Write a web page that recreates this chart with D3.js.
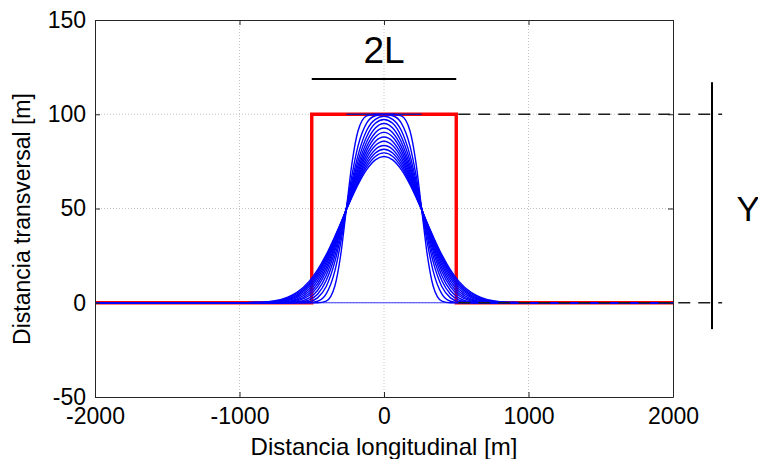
<!DOCTYPE html>
<html>
<head>
<meta charset="utf-8">
<script src="https://cdn.jsdelivr.net/npm/d3@7"></script>
<style>
body { margin: 0; background: #fff; }
text { font-family: "Liberation Sans", Arial, sans-serif; fill: #000; }
.axis path, .axis line { stroke: #262626; }
</style>
</head>
<body>
<svg id="chart" width="758" height="459"></svg>
<script>
// sample positions along the coast [m]
const xPos = [-2000, -1000, -900, -800, -700, -600, -520, -460, -400, -340, -300, -260, -220, -180, -120, -60, 0,
              60, 120, 180, 220, 260, 300, 340, 400, 460, 520, 600, 700, 800, 900, 1000, 2000];

// shoreline position at successive times [m]
const t01 = [0, 0, 0, 0, 0, 0, 0, 0, 0.9, 8.9, 25.1, 50, 74.9, 91.1, 99.1, 100, 100, 100, 99.1, 91.1, 74.9, 50, 25.1, 8.9, 0.9, 0, 0, 0, 0, 0, 0, 0, 0];
const t02 = [0, 0, 0, 0, 0, 0, 0.1, 0.8, 4.7, 16.9, 31.6, 50, 68.4, 83.1, 95.3, 99.2, 99.8, 99.2, 95.3, 83.1, 68.4, 50, 31.6, 16.9, 4.7, 0.8, 0.1, 0, 0, 0, 0, 0, 0];
const t03 = [0, 0, 0, 0, 0, 0.1, 0.6, 2.6, 8.6, 21.8, 34.8, 50, 65.2, 78.2, 91.4, 97.3, 98.9, 97.3, 91.4, 78.2, 65.2, 50, 34.8, 21.8, 8.6, 2.6, 0.6, 0.1, 0, 0, 0, 0, 0];
const t04 = [0, 0, 0, 0, 0, 0.2, 1.4, 4.5, 11.8, 24.9, 36.7, 50, 63.3, 75.1, 88.1, 95.2, 97.2, 95.2, 88.1, 75.1, 63.3, 50, 36.7, 24.9, 11.8, 4.5, 1.4, 0.2, 0, 0, 0, 0, 0];
const t05 = [0, 0, 0, 0, 0, 0.5, 2.5, 6.5, 14.5, 27.3, 38.1, 50, 61.9, 72.7, 85.3, 92.7, 95.1, 92.7, 85.3, 72.7, 61.9, 50, 38.1, 27.3, 14.5, 6.5, 2.5, 0.5, 0, 0, 0, 0, 0];
const t06 = [0, 0, 0, 0, 0.1, 1.0, 3.7, 8.4, 16.7, 29.1, 39.1, 50, 60.8, 70.8, 82.8, 90.2, 92.7, 90.2, 82.8, 70.8, 60.8, 50, 39.1, 29.1, 16.7, 8.4, 3.7, 1.0, 0.1, 0, 0, 0, 0];
const t07 = [0, 0, 0, 0, 0.2, 1.5, 4.8, 10.0, 18.5, 30.4, 39.9, 50, 60.0, 69.3, 80.7, 87.9, 90.4, 87.9, 80.7, 69.3, 60.0, 50, 39.9, 30.4, 18.5, 10.0, 4.8, 1.5, 0.2, 0, 0, 0, 0];
const t08 = [0, 0, 0, 0.1, 0.4, 2.1, 6.0, 11.6, 20.2, 31.6, 40.5, 49.9, 59.2, 67.9, 78.7, 85.6, 87.9, 85.6, 78.7, 67.9, 59.2, 49.9, 40.5, 31.6, 20.2, 11.6, 6.0, 2.1, 0.4, 0.1, 0, 0, 0];
const t09 = [0, 0, 0, 0.1, 0.7, 2.8, 7.2, 13.0, 21.5, 32.6, 41.0, 49.8, 58.6, 66.7, 76.9, 83.4, 85.7, 83.4, 76.9, 66.7, 58.6, 49.8, 41.0, 32.6, 21.5, 13.0, 7.2, 2.8, 0.7, 0.1, 0, 0, 0];
const t10 = [0, 0, 0, 0.2, 1.0, 3.5, 8.3, 14.3, 22.7, 33.4, 41.4, 49.7, 57.9, 65.6, 75.1, 81.3, 83.4, 81.3, 75.1, 65.6, 57.9, 49.7, 41.4, 33.4, 22.7, 14.3, 8.3, 3.5, 1.0, 0.2, 0, 0, 0];
const t11 = [0, 0, 0.1, 0.3, 1.3, 4.2, 9.3, 15.5, 23.8, 34.1, 41.7, 49.6, 57.3, 64.5, 73.5, 79.4, 81.4, 79.4, 73.5, 64.5, 57.3, 49.6, 41.7, 34.1, 23.8, 15.5, 9.3, 4.2, 1.3, 0.3, 0.1, 0, 0];
const t12 = [0, 0, 0.1, 0.4, 1.6, 4.9, 10.2, 16.4, 24.7, 34.7, 41.9, 49.4, 56.8, 63.6, 72.1, 77.6, 79.5, 77.6, 72.1, 63.6, 56.8, 49.4, 41.9, 34.7, 24.7, 16.4, 10.2, 4.9, 1.6, 0.4, 0.1, 0, 0];
const t13 = [0, 0, 0.1, 0.6, 2.0, 5.6, 11.2, 17.4, 25.5, 35.2, 42.1, 49.3, 56.2, 62.6, 70.6, 75.8, 77.6, 75.8, 70.6, 62.6, 56.2, 49.3, 42.1, 35.2, 25.5, 17.4, 11.2, 5.6, 2.0, 0.6, 0.1, 0, 0];
const shorelines = [t01, t02, t03, t04, t05, t06, t07, t08, t09, t10, t11, t12, t13];

// initial nourishment (red)
const initX = [-2000, -500, -500, 500, 500, 2000];
const initY = [0, 0, 100, 100, 0, 0];

// thin blue reference lines
const baseX = [-2000, 2000];
const baseY = [0, 0];
const topX = [-260, 260];
const topY = [100, 100];

// annotations
const refLevels = [0, 100];
const refStartX = 500;
const refEndX = 2340;
const barX = 2270;
const barY = [-14, 117];
const spanX = [-500, 500];
const spanY = 118.7;
const spanLabelY = 127;
const yLabelPos = [2440, 50];

const xTicks = [-2000, -1000, 0, 1000, 2000];
const yTicks = [-50, 0, 50, 100, 150];

let margin = {top: 20, right: 85, bottom: 62, left: 95};
let width = 758 - margin.left - margin.right;
let height = 459 - margin.top - margin.bottom;

let svg = d3.select('#chart');
let g = svg.append('g')
    .attr('transform', `translate(${margin.left}, ${margin.top})`)
;

let x = d3.scaleLinear().domain([-2000, 2000]).range([0, width]);
let y = d3.scaleLinear().domain([-50, 150]).range([height, 0]);

// plain hyphen minus, no thousands separator
let plain = d => String(d);

// dotted grid
g.append('g')
    .selectAll('line')
    .data(xTicks.slice(1, -1))
    .enter()
    .append('line')
    .attr('x1', d => x(d)).attr('x2', d => x(d))
    .attr('y1', 0).attr('y2', height)
    .attr('stroke', '#c4c4c4')
    .attr('stroke-dasharray', '1,2')
;
g.append('g')
    .selectAll('line')
    .data(yTicks.slice(1, -1))
    .enter()
    .append('line')
    .attr('y1', d => y(d)).attr('y2', d => y(d))
    .attr('x1', 0).attr('x2', width)
    .attr('stroke', '#c4c4c4')
    .attr('stroke-dasharray', '1,2')
;

let line = d3.line()
    .x(d => x(d[0]))
    .y(d => y(d[1]))
;
let smooth = d3.line()
    .x(d => x(d[0]))
    .y(d => y(d[1]))
    .curve(d3.curveMonotoneX)
;

// red initial profile
g.append('path')
    .datum(d3.zip(initX, initY))
    .attr('d', line)
    .attr('fill', 'none')
    .attr('stroke', '#ff0000')
    .attr('stroke-width', 3.4)
;

// blue reference lines
g.append('path')
    .datum(d3.zip(baseX, baseY))
    .attr('d', line)
    .attr('stroke', '#3a3aff')
    .attr('stroke-width', 1.2)
;
g.append('path')
    .datum(d3.zip(topX, topY))
    .attr('d', line)
    .attr('stroke', '#1a1aa0')
    .attr('stroke-width', 1.6)
;

// blue shorelines
g.selectAll('.shore')
    .data(shorelines)
    .enter()
    .append('path')
    .attr('class', 'shore')
    .attr('d', s => smooth(d3.zip(xPos, s)))
    .attr('fill', 'none')
    .attr('stroke', '#0000ff')
    .attr('stroke-width', 1.4)
;

// axes, ticks inside on all four sides
g.append('g')
    .attr('class', 'axis')
    .attr('transform', `translate(0, ${height})`)
    .call(d3.axisBottom(x).tickValues(xTicks).tickSize(-5).tickSizeOuter(0).tickPadding(11).tickFormat(plain))
;
g.append('g')
    .attr('class', 'axis')
    .call(d3.axisLeft(y).tickValues(yTicks).tickSize(-5).tickSizeOuter(0).tickPadding(9).tickFormat(plain))
;
g.append('g')
    .attr('class', 'axis')
    .call(d3.axisTop(x).tickValues(xTicks).tickSize(-5).tickSizeOuter(0).tickFormat(''))
;
g.append('g')
    .attr('class', 'axis')
    .attr('transform', `translate(${width}, 0)`)
    .call(d3.axisRight(y).tickValues(yTicks).tickSize(-5).tickSizeOuter(0).tickFormat(''))
;
g.selectAll('.axis text')
    .attr('font-size', 23)
    .attr('font-family', '"Liberation Sans", Arial, sans-serif')
;

// dashed levels out to the Y bar
g.selectAll('.ref')
    .data(refLevels)
    .enter()
    .append('line')
    .attr('class', 'ref')
    .attr('x1', x(refStartX) + 2).attr('x2', x(refEndX))
    .attr('y1', d => y(d)).attr('y2', d => y(d))
    .attr('stroke', '#1c1c1c')
    .attr('stroke-width', 1.6)
    .attr('stroke-dasharray', '12,8')
;

// Y bar
g.append('line')
    .attr('x1', x(barX)).attr('x2', x(barX))
    .attr('y1', y(barY[0])).attr('y2', y(barY[1]))
    .attr('stroke', '#000')
    .attr('stroke-width', 2)
;
g.append('text')
    .attr('x', x(yLabelPos[0]))
    .attr('y', y(yLabelPos[1]))
    .attr('dy', '0.36em')
    .attr('font-size', 35)
    .text('Y')
;

// 2L span
g.append('line')
    .attr('x1', x(spanX[0])).attr('x2', x(spanX[1]))
    .attr('y1', y(spanY)).attr('y2', y(spanY))
    .attr('stroke', '#000')
    .attr('stroke-width', 2)
;
g.append('text')
    .attr('x', x(0))
    .attr('y', y(spanLabelY))
    .attr('text-anchor', 'middle')
    .attr('font-size', 37)
    .text('2L')
;

// axis titles
svg.append('text')
    .attr('x', margin.left + width / 2)
    .attr('y', 455)
    .attr('text-anchor', 'middle')
    .attr('font-size', 24)
    .text('Distancia longitudinal [m]')
;
svg.append('text')
    .attr('transform', 'translate(30, 219) rotate(-90)')
    .attr('text-anchor', 'middle')
    .attr('font-size', 23)
    .text('Distancia transversal [m]')
;
</script>
</body>
</html>
